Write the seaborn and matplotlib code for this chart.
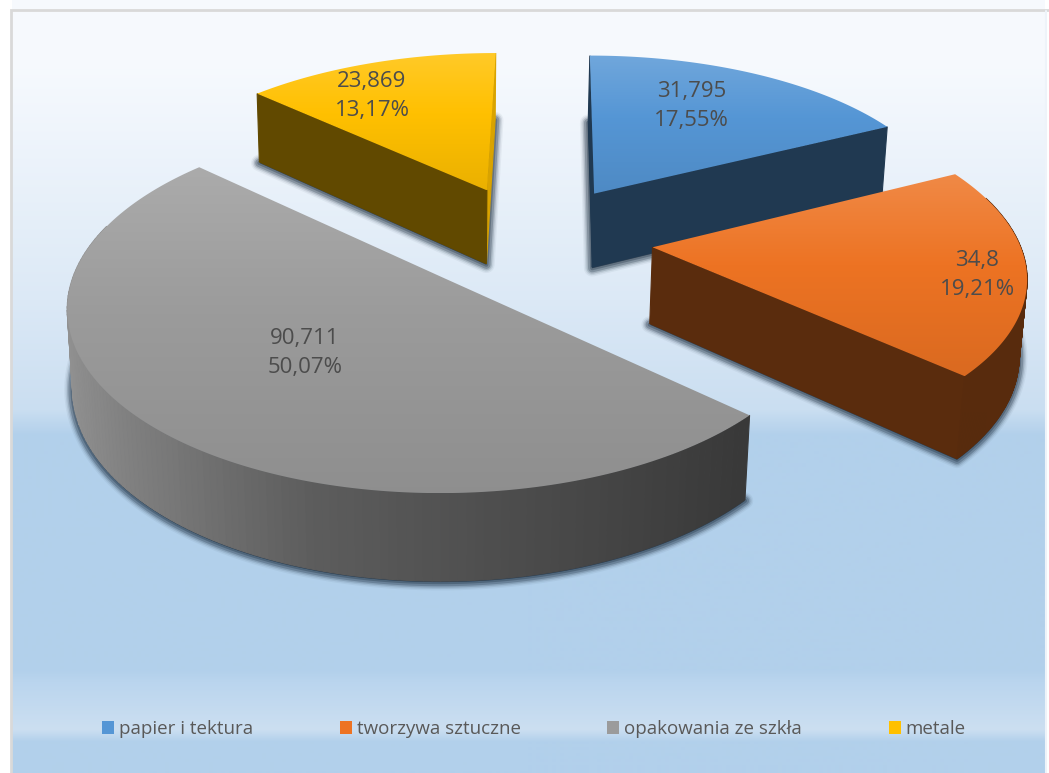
"""Exploded 3D style pie of packaging waste, drawn with a small perspective projection."""
import matplotlib.pyplot as plt
from matplotlib.patches import Patch, PathPatch
from matplotlib.path import Path
import numpy as np
import seaborn as sns

categories = ["papier i tektura", "tworzywa sztuczne", "opakowania ze szkła", "metale"]
values = [31.795, 34.8, 90.711, 23.869]
colors = ["#5596d5", "#ed7323", "#9b9b9b", "#ffc000"]

# perspective of the pie plane, in pixels of the picture
ORIGIN = (446, 279)
AX, BY, KW = 373.7, 182.0, 0.15
HEIGHT, MZ = 79.0, 0.014
EXPLODE = 0.33
BIG_SHEAR = 5.0
# the small slices sit a little differently from the big one
SMALL_SHEAR, SMALL_SCALE, NUDGE_U, NUDGE_V = 17.0, 1.012, 0.003, -0.02
LABEL_R = [0.68, 0.87, 0.52, 0.76]
LABEL_TURN = [-4.6, 2.7, 0.0, -6.0]

bg_y = [0, 60, 300, 410, 435, 670, 682, 730, 742, 773]
bg_c = ["#f6f9fd", "#f7fafe", "#dce9f6", "#cadef1", "#b2d0eb", "#b2d0eb", "#bad5ee", "#ccdff1", "#b2d0eb", "#b2d0eb"]

sns.set_theme(style="white")
plt.rcParams["font.family"] = ["Open Sans", "DejaVu Sans"]
palette = sns.color_palette(colors)


def project(u, v, z=0.0, shear=0.0, scale=1.0):
    w = 1 + KW * v + MZ * z
    return ORIGIN[0] + (AX * scale * u + shear * v) / w, ORIGIN[1] - (BY * v - HEIGHT * z) / w


def polar(deg):
    r = np.radians(deg)
    return np.sin(r), np.cos(r)


def shade(c, f):
    return tuple(np.clip(np.array(c) * f, 0, 1))


def blend(c, f):
    return tuple(np.array(c) + (1 - np.array(c)) * f)


def background(ax):
    ys = np.arange(774)
    rgb = sns.color_palette(bg_c)
    img = np.stack([np.interp(ys, bg_y, [c[i] for c in rgb]) for i in range(3)], axis=1)[:, None, :]
    ax.imshow(img, extent=(12, 1045, 773, 0), aspect="auto", zorder=0)
    ax.plot([11, 11, 1049], [773, 10, 10], color="#d9d9d9", lw=2, zorder=1, solid_joinstyle="miter")
    ax.plot([1046, 1046], [11, 773], color="#eef3f9", lw=1.5, zorder=1)


def draw_top(ax, xs, ys, color, z):
    verts = np.column_stack([xs, ys])
    path = Path(np.vstack([verts, verts[0]]), closed=True)
    patch = PathPatch(path, fc="none", ec="none", zorder=z)
    ax.add_patch(patch)
    top, bot = ys.min(), ys.max()
    grad = np.linspace(0, 1, 256)
    stops = [blend(color, 0.16), color, shade(color, 0.92)]
    img = np.stack([np.interp(grad, [0, 0.45, 1], [s[i] for s in stops]) for i in range(3)], axis=1)[:, None, :]
    im = ax.imshow(img, extent=(xs.min(), xs.max(), bot, top), aspect="auto", zorder=z)
    im.set_clip_path(patch)


fig = plt.figure(figsize=(10.49, 7.73), dpi=100, facecolor="white")
ax = fig.add_axes([0, 0, 1, 1])
background(ax)

total = sum(values)
edges = np.concatenate([[0], np.cumsum(values)]) / total * 360
mids = (edges[:-1] + edges[1:]) / 2
big = int(np.argmax(values))
cx, cy = polar(mids[big])
centre = (-EXPLODE * cx, -EXPLODE * cy)

slices = []
for i, val in enumerate(values):
    dx, dy = polar(mids[i])
    ox, oy = centre[0] + EXPLODE * dx, centre[1] + EXPLODE * dy
    shear, scale = BIG_SHEAR, 1.0
    if i != big:
        ox += NUDGE_U
        oy += NUDGE_V
        shear, scale = SMALL_SHEAR, SMALL_SCALE
    theta = np.linspace(edges[i], edges[i + 1], 160)
    su, sv = polar(theta)
    u = np.concatenate([[ox], ox + su])
    v = np.concatenate([[oy], oy + sv])
    slices.append((i, ox, oy, theta, u, v, shear, scale))

# soft shadow round the foot of each slice
for i, ox, oy, theta, u, v, shear, scale in slices:
    bx, by = project(u, v, 1.0, shear, scale)
    for lw, a in zip([12, 10, 8, 6, 3], [0.05, 0.09, 0.16, 0.25, 0.3]):
        ax.fill(bx, by + 1, fc="#16283a", ec="#16283a", alpha=a, lw=lw, joinstyle="round", zorder=2)

for i, ox, oy, theta, u, v, shear, scale in sorted(slices, key=lambda s: -s[2]):
    base = palette[i]
    faces = []
    # radial faces, only those turned towards the viewer
    for k, a in ((1, edges[i]), (-1, edges[i + 1])):
        nx, ny = polar(a - 90 * k)
        if ny > 0.01:
            continue
        ex, ey = polar(a)
        fu = np.array([ox, ox + ex])
        fv = np.array([oy, oy + ey])
        f = 0.85 if nx > 0.95 else 0.38
        faces.append((fv.mean(), fu, fv, f))
    # curved wall
    for a0, a1, su0, sv0, su1, sv1 in zip(theta[:-1], theta[1:], u[1:-1], v[1:-1], u[2:], v[2:]):
        nx, ny = polar((a0 + a1) / 2)
        if ny > 0.3:
            continue
        f = np.interp(nx, [-1, -0.3, 0.7, 1], [0.95, 0.6, 0.37, 0.37])
        faces.append(((sv0 + sv1) / 2, np.array([su0, su1]), np.array([sv0, sv1]), f))
    for _, fu, fv, f in sorted(faces, key=lambda q: -q[0]):
        tx, ty = project(fu, fv, 0.0, shear, scale)
        bx, by = project(fu, fv, 1.0, shear, scale)
        col = shade(base, f)
        ax.fill(np.r_[tx, bx[::-1]], np.r_[ty, by[::-1]], fc=col, ec=col, lw=0.8, zorder=3)
    xs, ys = project(u, v, 0.0, shear, scale)
    draw_top(ax, xs, ys, base, 3)

for i, ox, oy, theta, u, v, shear, scale in slices:
    dx, dy = polar(mids[i] + LABEL_TURN[i])
    lx, ly = project(ox + LABEL_R[i] * dx, oy + LABEL_R[i] * dy, 0.0, shear, scale)
    num = f"{values[i]:g}".replace(".", ",")
    pct = f"{values[i] / total * 100:.2f}".replace(".", ",")
    ax.text(lx, ly, f"{num}\n{pct}%", ha="center", va="center", fontsize=16,
            color="#4c4c4c", linespacing=1.5, zorder=6)

handles = [Patch(fc=c, ec="none", label=n) for c, n in zip(palette, categories)]
ax.legend(handles=handles, ncol=4, loc="center", bbox_to_anchor=(534, 729), bbox_transform=ax.transData,
          frameon=False, fontsize=13.5, labelcolor="#595959", handlelength=0.65, handleheight=0.65,
          handletextpad=0.27, columnspacing=4.6)

ax.set_xlim(0, 1049)
ax.set_ylim(773, 0)
ax.axis("off")
fig.savefig("out.png", dpi=100)
